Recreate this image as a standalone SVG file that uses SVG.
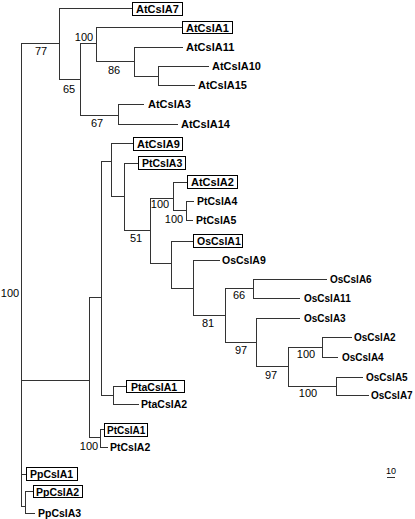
<svg xmlns="http://www.w3.org/2000/svg" width="415" height="519" viewBox="0 0 415 519">
<style>
.b{stroke:#333;stroke-width:1;fill:none}
.t{font-family:"Liberation Sans",Arial,sans-serif;font-size:10.5px;font-weight:bold;fill:#000}
.ta{font-size:11px}
.os{font-size:10px}
.n{font-family:"Liberation Sans",Arial,sans-serif;font-size:11px;fill:#000}
.bx{fill:#fff;stroke:#000;stroke-width:1}
</style>
<rect width="415" height="519" fill="#fff"/>
<g id="connectors" class="b">
<path d="M21.5 43V506 M21 43.5H59.5 M59.5 8V79 M59 8.5H132 M59 79.5H80.5 M80.5 43V115 M80 43.5H96.5 M96.5 27V61 M96 27.5H182 M96 61.5H134.5 M134.5 47V76 M134 47.5H183 M134 76.5H158.5 M158.5 66V85 M158 66.5H209 M158 85.5H195 M80 115.5H118.5 M118.5 104V124 M118 104.5H144 M118 124.5H178"/>
<path d="M21 380.5H89.5 M89.5 297V437 M89 297.5H101.5 M101.5 161V395 M101 161.5H111.5 M111.5 143V196 M111 143.5H133 M111 196.5H124.5 M124.5 163V230 M124 163.5H138 M124 230.5H150.5 M150.5 198V263 M150 198.5H173.5 M173.5 182V210 M173 182.5H187 M173 210.5H186.5 M186.5 201V220 M186 201.5H194 M186 220.5H193"/>
<path d="M150 263.5H171.5 M171.5 241V288 M171 241.5H193 M171 288.5H193.5 M193.5 260V315 M193 260.5H220 M193 315.5H225.5 M225.5 288V342 M225 288.5H253.5 M253.5 279V298 M253 279.5H327 M253 298.5H300 M225 342.5H256.5 M256.5 318V366 M256 318.5H300 M256 366.5H288.5 M288.5 347V386 M288 347.5H322.5 M322.5 337V357 M322 337.5H352 M322 357.5H338 M288 386.5H336.5 M336.5 377V395 M336 377.5H363 M336 395.5H369"/>
<path d="M101 395.5H113.5 M113.5 386V404 M113 386.5H126 M113 404.5H139 M89 437.5H100.5 M100.5 429V447 M100 429.5H105 M100 447.5H108"/>
<path d="M21 474.5H26 M21 506.5H25.5 M25.5 491V513 M25 491.5H33 M25 513.5H35"/>
<path d="M387 477.5H395"/>
</g>
<g id="bootstrap" class="n" text-anchor="middle" opacity="0.99">
<text x="41" y="55">77</text>
<text x="84" y="41">100</text>
<text x="114" y="74">86</text>
<text x="69" y="93">65</text>
<text x="97" y="127">67</text>
<text x="10" y="297">100</text>
<text x="136" y="242">51</text>
<text x="160" y="208">100</text>
<text x="174" y="223">100</text>
<text x="208" y="327">81</text>
<text x="239" y="299">66</text>
<text x="241" y="354">97</text>
<text x="271" y="379">97</text>
<text x="306" y="358">100</text>
<text x="308" y="397">100</text>
<text x="89" y="450">100</text>
</g>
<g id="AtCslA7"><rect class="bx" x="132.5" y="2.5" width="50" height="13"/><text class="t ta" x="136" y="13">AtCslA7</text></g>
<g id="AtCslA1"><rect class="bx" x="182.5" y="21.5" width="50" height="12"/><text class="t ta" x="186" y="31.5">AtCslA1</text></g>
<g id="AtCslA11"><text class="t ta" x="186" y="51">AtCslA11</text></g>
<g id="AtCslA10"><text class="t ta" x="212" y="70">AtCslA10</text></g>
<g id="AtCslA15"><text class="t ta" x="198" y="89">AtCslA15</text></g>
<g id="AtCslA3"><text class="t ta" x="148" y="108">AtCslA3</text></g>
<g id="AtCslA14"><text class="t ta" x="181" y="128">AtCslA14</text></g>
<g id="AtCslA9"><rect class="bx" x="133.5" y="137.5" width="49" height="13"/><text class="t ta" x="137" y="147.5">AtCslA9</text></g>
<g id="PtCslA3"><rect class="bx" x="138.5" y="156.5" width="47" height="13"/><text class="t" x="142" y="167">PtCslA3</text></g>
<g id="AtCslA2"><rect class="bx" x="187.5" y="175.5" width="50" height="13"/><text class="t ta" x="191" y="186">AtCslA2</text></g>
<g id="PtCslA4"><text class="t" x="197" y="205">PtCslA4</text></g>
<g id="PtCslA5"><text class="t" x="196" y="224">PtCslA5</text></g>
<g id="OsCslA1"><rect class="bx" x="193.5" y="234.5" width="49" height="13"/><text class="t" x="197" y="245">OsCslA1</text></g>
<g id="OsCslA9"><text class="t" x="222" y="264">OsCslA9</text></g>
<g id="OsCslA6"><text class="t os" x="330" y="283">OsCslA6</text></g>
<g id="OsCslA11"><text class="t os" x="304" y="302">OsCslA11</text></g>
<g id="OsCslA3"><text class="t os" x="304" y="322">OsCslA3</text></g>
<g id="OsCslA2"><text class="t os" x="354" y="341">OsCslA2</text></g>
<g id="OsCslA4"><text class="t os" x="342" y="361">OsCslA4</text></g>
<g id="OsCslA5"><text class="t os" x="366" y="381">OsCslA5</text></g>
<g id="OsCslA7"><text class="t os" x="371" y="399">OsCslA7</text></g>
<g id="PtaCslA1"><rect class="bx" x="126.5" y="380.5" width="58" height="12"/><text class="t" x="131" y="390.5">PtaCslA1</text></g>
<g id="PtaCslA2"><text class="t" x="141" y="408">PtaCslA2</text></g>
<g id="PtCslA1"><rect class="bx" x="104.5" y="423.5" width="43" height="13"/><text class="t os" x="107" y="434">PtCslA1</text></g>
<g id="PtCslA2"><text class="t" x="110" y="451">PtCslA2</text></g>
<g id="PpCslA1"><rect class="bx" x="26.5" y="467.5" width="51" height="13"/><text class="t" x="30" y="478">PpCslA1</text></g>
<g id="PpCslA2"><rect class="bx" x="33.5" y="485.5" width="49" height="12"/><text class="t" x="36" y="495.5">PpCslA2</text></g>
<g id="PpCslA3"><text class="t" x="38" y="517">PpCslA3</text></g>
<g id="scale"><text x="391" y="474" text-anchor="middle" style="font-family:'Liberation Sans',Arial,sans-serif;font-size:9px">10</text></g>
</svg>
